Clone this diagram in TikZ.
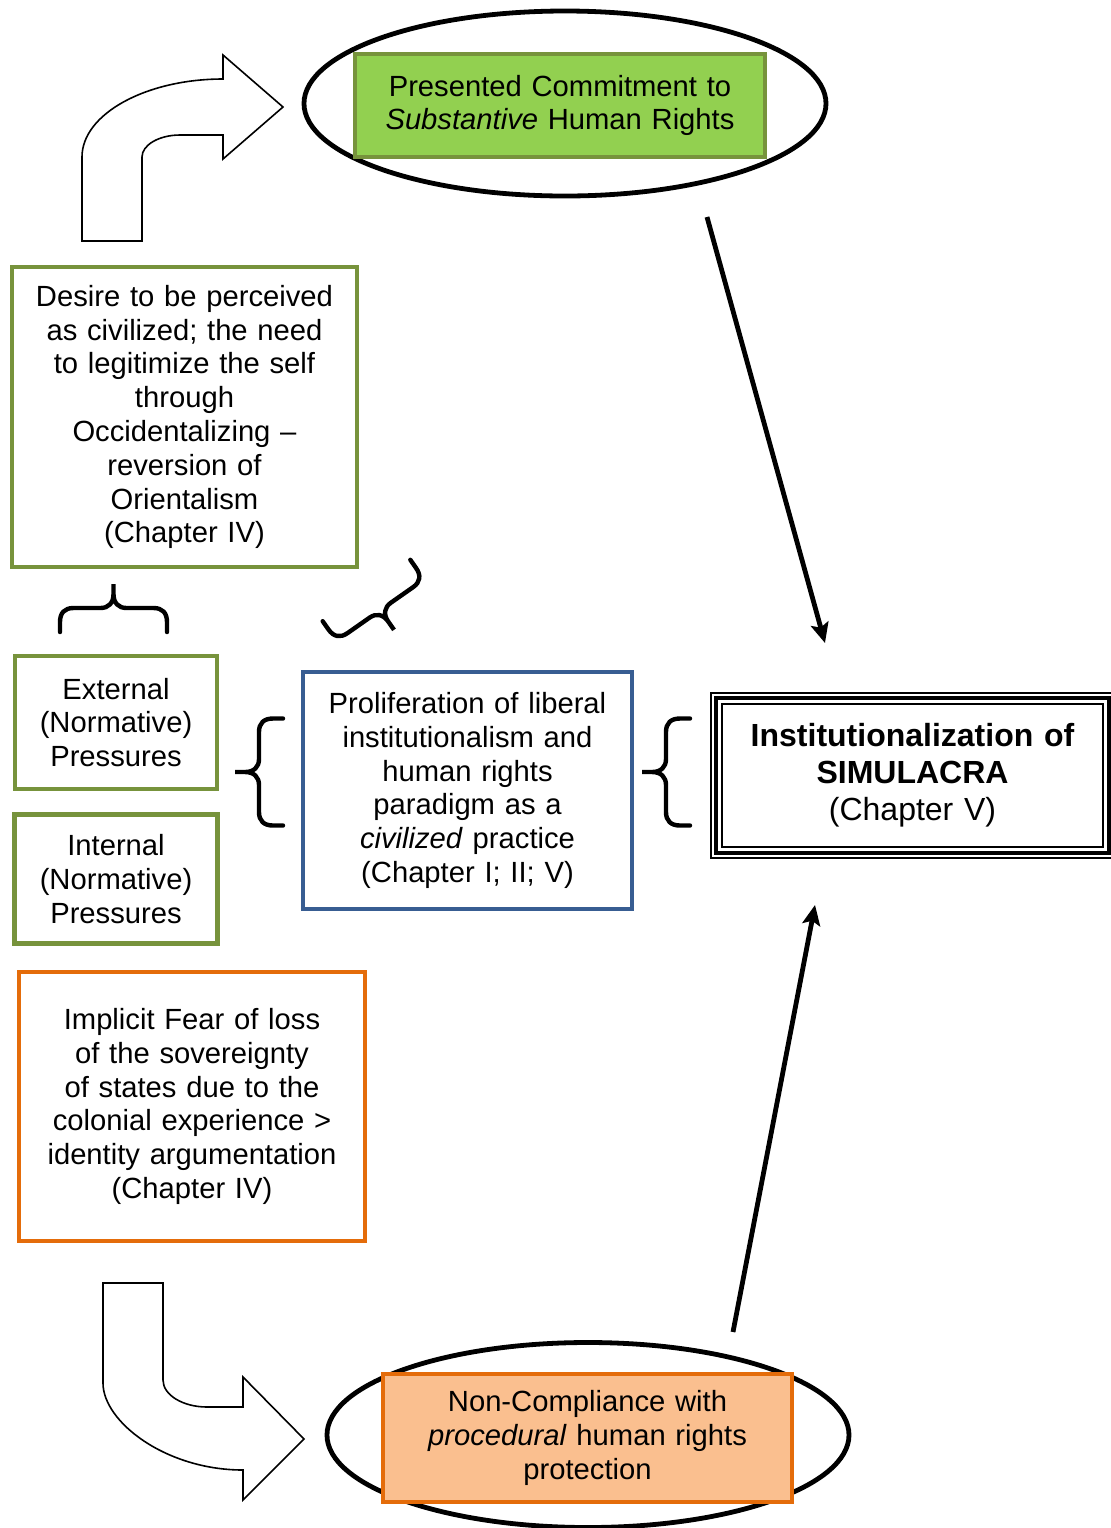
\documentclass[tikz,border=0pt]{standalone}
\usepackage{fontspec}
\setmainfont{Liberation Sans}
\usetikzlibrary{shapes.geometric,arrows.meta,positioning,calc}
\definecolor{leafgreen}{RGB}{146,208,80}
\definecolor{olivegreen}{RGB}{119,147,60}
\definecolor{steelblue}{RGB}{56,93,146}
\definecolor{deeporange}{RGB}{228,108,10}
\definecolor{peach}{RGB}{250,191,143}

\tikzset{
    curlybrace/.pic={
        \draw[line width=2.2pt, line cap=round] (-53.5,0) -- (-53.5,-10) .. controls (-53.5,-19) and (-49,-24) .. (-40,-24) -- (-13,-24) .. controls (-5,-24) and (0,-29) .. (0,-38) -- (0,-48) -- (0,-38) .. controls (0,-29) and (5,-24) .. (13,-24) -- (40,-24) .. controls (49,-24) and (53.5,-19) .. (53.5,-10) -- (53.5,0);
    }
}

\begin{document}
\begin{tikzpicture}[x=0.5pt, y=-0.5pt,
    box/.style={rectangle, draw, line width=2.2pt, align=center, inner sep=2pt, font=\fontsize{14.6pt}{16.9pt}\selectfont},
    greenbox/.style={box, draw=olivegreen},
    bluebox/.style={box, draw=steelblue},
    orangebox/.style={box, draw=deeporange},
    ovalline/.style={ellipse, draw, line width=2.4pt, minimum width=261pt, minimum height=92.5pt},
    bendarrow/.style={draw, fill=white, line width=0.8pt, line join=miter},
    arrow/.style={-{Stealth[length=10pt, width=9pt, inset=2pt]}, line width=2.4pt}
]
\useasboundingbox (0,0) rectangle (1111,1528);

\node[ovalline] (topring) at (565,103.5) {};
\node[greenbox, fill=leafgreen, minimum width=205pt, minimum height=51.5pt, text width=195pt] (commit) at (560,105.5) {Presented Commitment to\\\textit{Substantive} Human Rights};

\node[greenbox, minimum width=172.5pt, minimum height=150pt, text width=160pt] (desire) at (184.5,417) {Desire to be perceived\\as civilized; the need\\to legitimize the self\\through\\Occidentalizing –\\reversion of\\Orientalism\\(Chapter IV)};

\node[greenbox, minimum width=101pt, minimum height=66.5pt, text width=95pt] (external) at (116,722.5) {External\\(Normative)\\Pressures};
\node[greenbox, below=10.5pt of external, minimum width=101.5pt, minimum height=64.5pt, text width=95pt] (internal) {Internal\\(Normative)\\Pressures};

\node[bluebox, minimum width=164.5pt, minimum height=118.5pt, text width=152pt] (prolif) at (467.5,790.5) {Proliferation of liberal\\institutionalism and\\human rights\\paradigm as a\\\textit{civilized} practice\\(Chapter I; II; V)};

\node[box, line width=0.8pt, minimum width=201.5pt, minimum height=82.5pt, text width=190pt, font=\fontsize{16pt}{18.5pt}\selectfont] (simulacra) at (912.5,775.5) {\textbf{Institutionalization of}\\\textbf{SIMULACRA}\\(Chapter V)};
\draw[line width=2pt] ($(simulacra.north west)+(6,6)$) rectangle ($(simulacra.south east)+(-6,-6)$);
\draw[line width=1pt] ($(simulacra.north west)+(12,12)$) rectangle ($(simulacra.south east)+(-12,-12)$);

\node[orangebox, minimum width=173pt, minimum height=134.5pt, text width=160pt] (fear) at (192,1106.5) {Implicit Fear of loss\\of the sovereignty\\of states due to the\\colonial experience >\\identity argumentation\\(Chapter IV)};

\node[ovalline] (lowring) at (588,1435) {};
\node[orangebox, fill=peach, minimum width=204.5pt, minimum height=64pt, text width=195pt] (noncomp) at (587.5,1438) {Non-Compliance with\\\textit{procedural} human rights\\protection};

\draw[bendarrow] (82,241) -- (82,157) .. controls (82,114) and (146,79) .. (223,79) -- (223,55) -- (283,107) -- (223,159) -- (223,135) -- (180,135) .. controls (159,135) and (142,145) .. (142,157) -- (142,241) -- cycle;
\draw[bendarrow] (103,1283) -- (163,1283) -- (163,1380) .. controls (163,1395) and (183,1407) .. (207,1407) -- (243,1407) -- (243,1377) -- (304,1439) -- (243,1500) -- (243,1470) .. controls (166,1470) and (103,1422) .. (103,1383) -- cycle;

\coordinate (topout) at (707,217);
\coordinate (topin) at (825,643);
\coordinate (lowout) at (733,1332);
\coordinate (lowin) at (815,905);
\draw[arrow] (topout) -- (topin);
\draw[arrow] (lowout) -- (lowin);

\pic at (113.5,632) {curlybrace};
\pic[rotate=-145] at (366.5,590.5) {curlybrace};
\pic[rotate=90] at (283,772) {curlybrace};
\pic[rotate=90] at (690,772) {curlybrace};
\end{tikzpicture}
\end{document}
